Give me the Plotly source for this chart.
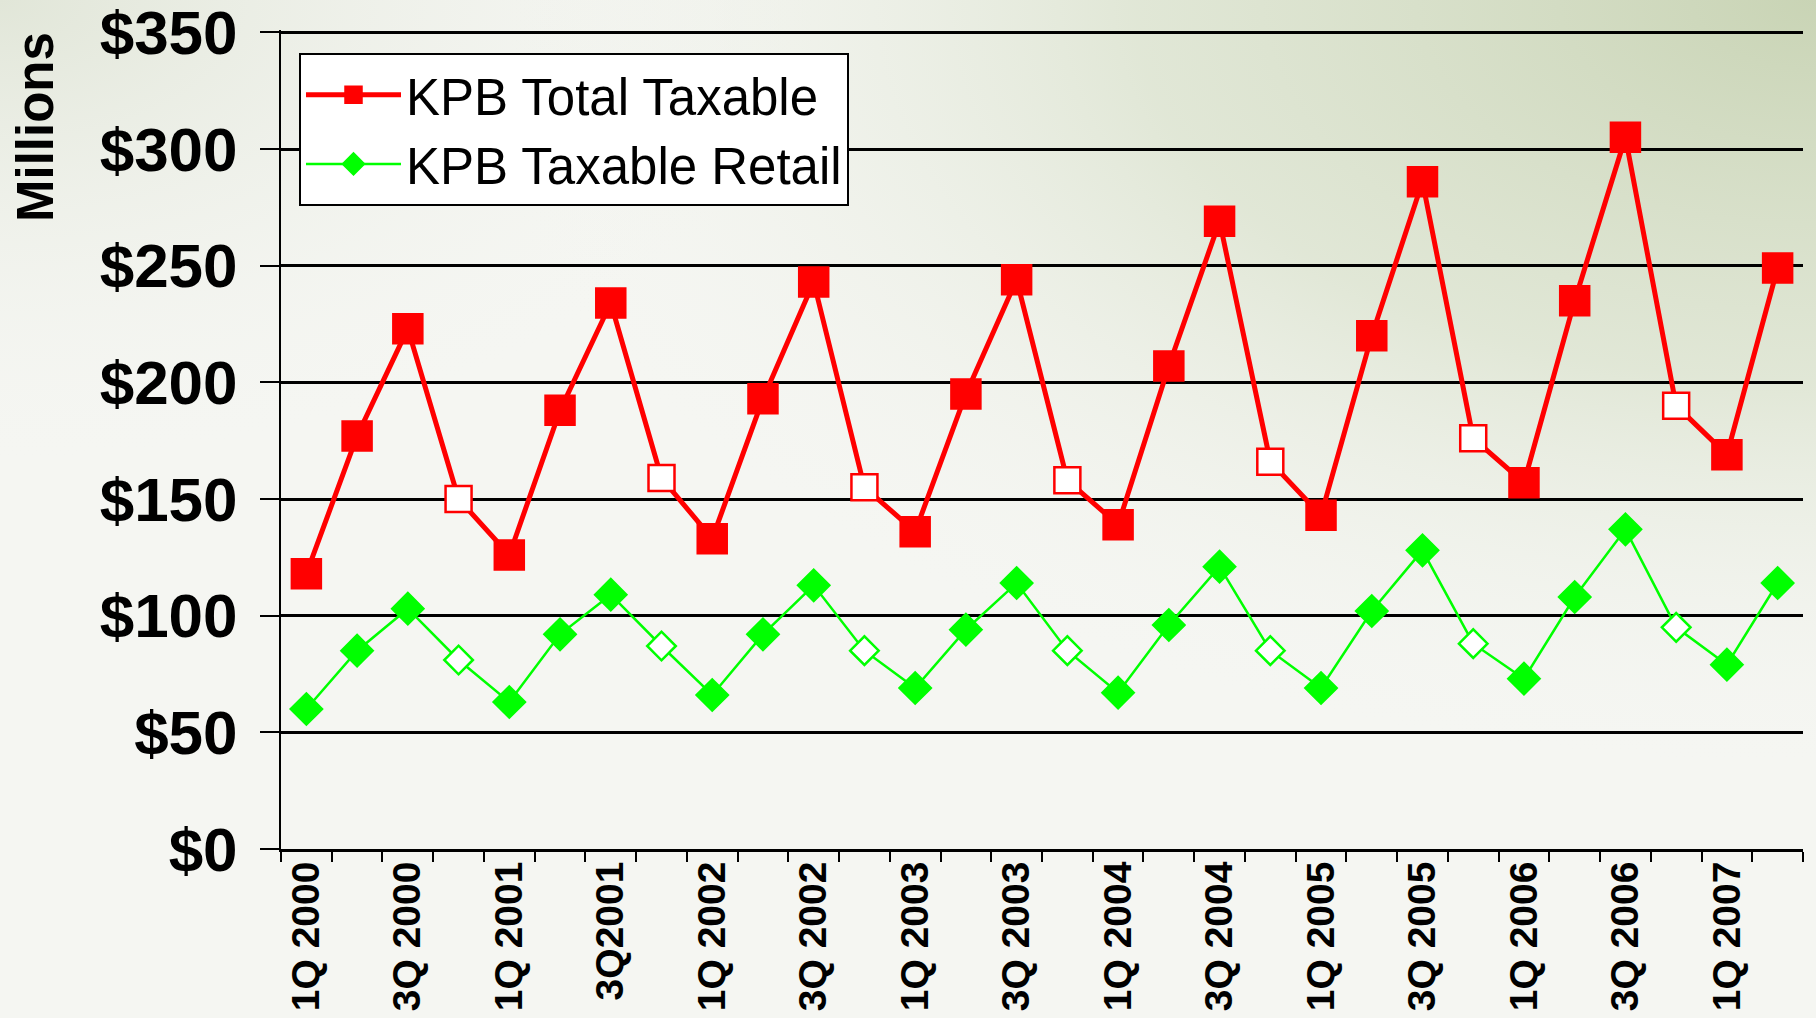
import base64
import plotly.graph_objects as go

# ---- data ----
years = [2000, 2001, 2002, 2003, 2004, 2005, 2006, 2007]
quarters = [f"{q}Q {y}" for y in years for q in (1, 2, 3, 4)][:30]  # 1Q 2000 .. 2Q 2007

total_taxable = [118, 177, 223, 150, 126, 188, 234, 159, 133, 193,
                 243, 155, 136, 195, 244, 158, 139, 207, 269, 166,
                 143, 220, 286, 176, 157, 235, 305, 190, 169, 249]
taxable_retail = [60, 85, 103, 81, 63, 92, 109, 87, 66, 92,
                  113, 85, 69, 94, 114, 85, 67, 96, 121, 85,
                  69, 102, 128, 88, 73, 108, 137, 95, 79, 114]

tick_labels = ["1Q 2000", "3Q 2000", "1Q 2001", "3Q2001", "1Q 2002", "3Q 2002",
               "1Q 2003", "3Q 2003", "1Q 2004", "3Q 2004", "1Q 2005", "3Q 2005",
               "1Q 2006", "3Q 2006", "1Q 2007"]
y_ticks = [0, 50, 100, 150, 200, 250, 300, 350]

RED = "#ff0000"
GREEN = "#00ff00"
FONT = "Liberation Sans, Arial, sans-serif"

xs = list(range(len(quarters)))
is_q4 = [q.startswith("4Q") for q in quarters]
red_fill = ["white" if h else RED for h in is_q4]
green_fill = ["white" if h else GREEN for h in is_q4]
red_size = [26 if h else 29 for h in is_q4]
green_size = [22 if h else 24 for h in is_q4]

fig = go.Figure()
fig.add_trace(go.Scatter(
    x=xs, y=total_taxable, mode="lines+markers", name="KPB Total Taxable",
    line=dict(color=RED, width=5),
    marker=dict(symbol="square", size=red_size, color=red_fill, opacity=1,
                line=dict(color=RED, width=2.5)),
))
fig.add_trace(go.Scatter(
    x=xs, y=taxable_retail, mode="lines+markers", name="KPB Taxable Retail",
    line=dict(color=GREEN, width=2.5),
    marker=dict(symbol="diamond", size=green_size, color=green_fill, opacity=1,
                line=dict(color=GREEN, width=2.5)),
))

# background gradient
svg = ('<svg xmlns="http://www.w3.org/2000/svg" width="1816" height="1018" viewBox="0 0 1816 1018" preserveAspectRatio="none">'
       '<defs>'
       '<radialGradient id="g1" cx="1" cy="0" r="0.75">'
       '<stop offset="0" stop-color="#c9d4b5" stop-opacity="1"/>'
       '<stop offset="0.5" stop-color="#dae2cd" stop-opacity="0.75"/>'
       '<stop offset="1" stop-color="#f3f4f0" stop-opacity="0"/></radialGradient>'
       '<radialGradient id="g2" cx="0" cy="0" r="0.45">'
       '<stop offset="0" stop-color="#e1e6d8" stop-opacity="1"/>'
       '<stop offset="1" stop-color="#f3f4f0" stop-opacity="0"/></radialGradient>'
       '</defs>'
       '<rect width="1816" height="1018" fill="#f5f6f2"/>'
       '<rect width="1816" height="1018" fill="url(#g2)"/>'
       '<rect width="1816" height="1018" fill="url(#g1)"/></svg>')
src = "data:image/svg+xml;base64," + base64.b64encode(svg.encode()).decode()

L, R, T, B = 281, 13, 30, 169
W, H = 1816, 1018
pw, ph = W - L - R, H - T - B

fig.update_layout(
    width=W, height=H,
    margin=dict(l=L, r=R, t=T, b=B, autoexpand=False),
    paper_bgcolor="#f3f4ef",
    plot_bgcolor="rgba(0,0,0,0)",
    font=dict(family=FONT, color="black"),
    showlegend=True,
    legend=dict(x=(299 - L) / pw, y=1 - (53 - T) / ph, xanchor="left", yanchor="top",
                bgcolor="white", bordercolor="black", borderwidth=2,
                font=dict(size=51, family=FONT, color="black"),
                itemwidth=95, tracegroupgap=0),
    images=[dict(source=src, xref="paper", yref="paper",
                 x=-L / pw, y=1 + T / ph, sizex=W / pw, sizey=H / ph,
                 sizing="stretch", layer="below", xanchor="left", yanchor="top")],
    annotations=[dict(text="<b>Millions</b>", xref="paper", yref="paper",
                      x=(35 - L) / pw, y=1 - (127 - T) / ph, xanchor="center", yanchor="middle",
                      textangle=-90, showarrow=False,
                      font=dict(size=51, family=FONT, color="black"))],
)

fig.update_xaxes(
    range=[-0.5, len(quarters) - 0.5], automargin=False,
    tickmode="array", tickvals=xs[::2], ticktext=[f"<b>{t}</b>" for t in tick_labels],
    tickangle=-90, ticks="", ticklabelstandoff=-6, ticklabeloverflow="allow",
    tickfont=dict(size=39, family=FONT, color="black"),
    showline=True, linecolor="black", linewidth=3, showgrid=False, zeroline=False,
    minor=dict(ticks="outside", tick0=-0.5, dtick=1, ticklen=10, tickwidth=2,
               tickcolor="black", showgrid=False),
)
fig.update_yaxes(
    range=[0, 351], automargin=False, tickmode="array", tickvals=y_ticks,
    ticktext=[f"<b>${v}</b>" for v in y_ticks],
    tickfont=dict(size=62, family=FONT, color="black"),
    ticks="outside", ticklen=19, tickwidth=2, tickcolor="black", ticklabelstandoff=10,
    ticklabeloverflow="allow",
    showline=True, linecolor="black", linewidth=2,
    showgrid=True, gridcolor="black", gridwidth=2.5, zeroline=False,
)

fig.write_html("out.html", config={"displayModeBar": False},
               post_script="document.body.style.margin='0';document.body.style.overflow='hidden';")
